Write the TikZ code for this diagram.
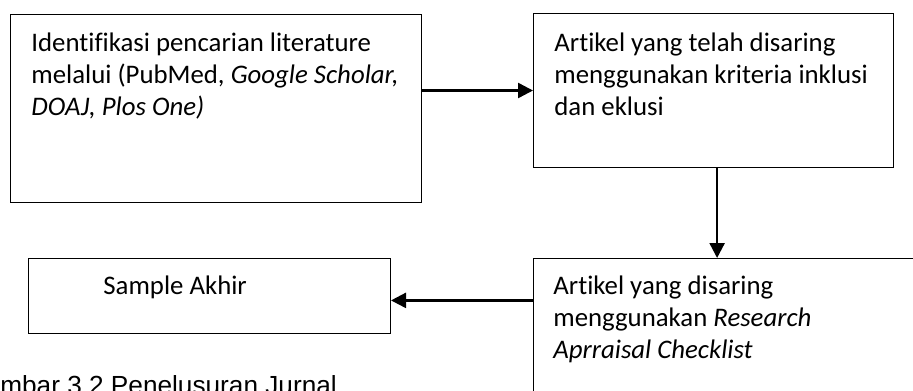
\documentclass[tikz,border=0pt]{standalone}
\usepackage{fontspec}
\setmainfont{Carlito}[Ligatures=NoCommon]
\newfontfamily\captionfont{Liberation Sans}
\usetikzlibrary{arrows.meta, positioning}

\tikzset{
  box/.style={draw, line width=0.5pt, anchor=north west, inner sep=0pt},
  boxtext/.style={anchor=base west, align=left, inner sep=0pt, font=\fontsize{13.4}{16}\selectfont},
  arr/.style={line width=1.2pt, -{Triangle[length=7.5pt, width=7.5pt]}}
}

\begin{document}
\begin{tikzpicture}[x=0.5pt, y=-0.5pt]
                        \useasboundingbox (0,0) rectangle (913,390);
                        \clip (0,0) rectangle (913,390);
                        % boxes
                        \node[box, minimum width=205.5pt, minimum height=94pt] (ident) at (10,14) {};
                        \node[box, minimum width=180pt, minimum height=77pt] (saring) at (533,13) {};
                        \node[box, minimum width=250pt, minimum height=100pt] (rac) at (533,258) {};
                        \node[box, minimum width=181pt, minimum height=37.5pt] (akhir) at (28,258) {};
                        % texts (anchored at the baseline of the last line)
                        \node[boxtext, xshift=10.5pt, yshift=-50.5pt] (identtxt) at (ident.north west)
                          {Identifikasi pencarian literature\\ melalui (PubMed, \textit{Google Scholar,}\\ \textit{DOAJ, Plos One)}};
                        \node[boxtext, xshift=10.5pt, yshift=-51pt] (saringtxt) at (saring.north west)
                          {Artikel yang telah disaring\\ menggunakan kriteria inklusi\\ dan eklusi};
                        \node[boxtext, xshift=10pt, yshift=-50pt] (ractxt) at (rac.north west)
                          {Artikel yang disaring\\ menggunakan \textit{Research}\\ \textit{Aprraisal Checklist}};
                        \node[boxtext, xshift=37.5pt, yshift=-18pt] (akhirtxt) at (akhir.north west) {Sample Akhir};
                        % arrows
                        \draw[arr] (ident.east |- saring.west) -- (saring.west);
                        \draw[arr] ([xshift=1.8pt]saring.south) -- ([xshift=1.8pt]saring.south |- rac.north);
                        \draw[arr] ([yshift=-2.2pt]rac.west |- akhir.east) -- ([yshift=-2.2pt]akhir.east);
                        % caption
                        \node[anchor=base west, inner sep=0pt, font=\captionfont\fontsize{13.1}{15}\selectfont] (judul) at (-35,394) {Gambar 3.2 Penelusuran Jurnal};
                    \end{tikzpicture}
\end{document}
